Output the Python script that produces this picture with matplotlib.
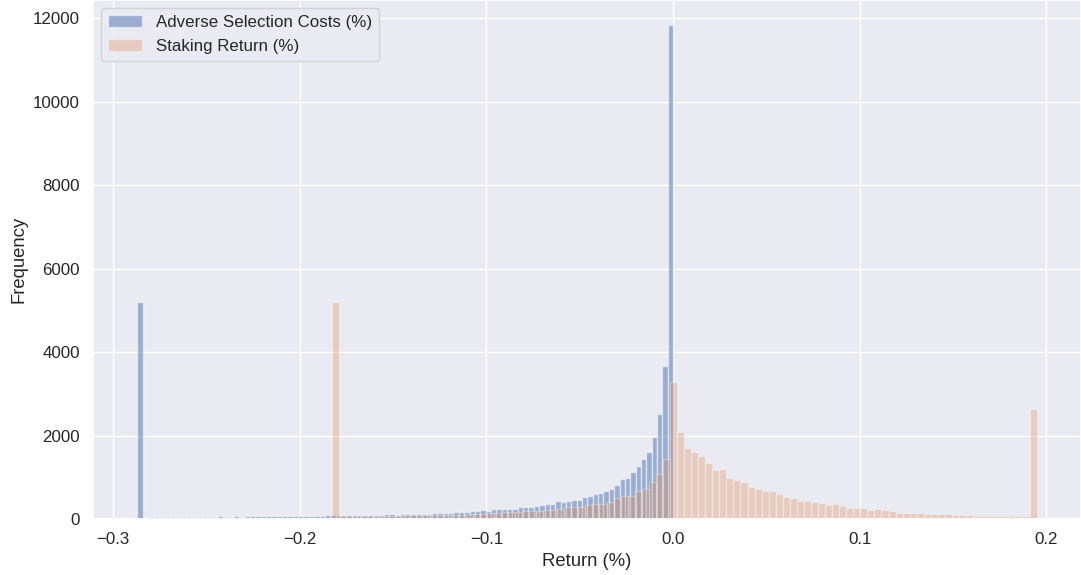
import numpy as np
import matplotlib
matplotlib.use("Agg")
import matplotlib.pyplot as plt
import seaborn as sns

# histogram counts (100 bins per series)
adverse_range = (-0.2869, 0.0)
adverse_counts = [5200,
    30, 46, 48, 50, 46, 52, 50, 54, 48, 56,
    54, 52, 58, 56, 60, 57, 55, 62, 59, 64,
    61, 66, 63, 68, 65, 70, 68, 72, 70, 74,
    76, 72, 80, 78, 84, 88, 86, 84, 90, 94,
    92, 98, 100, 102, 104, 108, 112, 106, 116, 120,
    118, 126, 130, 128, 136, 144, 140, 152, 156, 166,
    172, 182, 198,
    216, 200, 232, 236, 234, 236, 240, 280, 296, 284,
    304, 344, 360, 360, 424, 408, 432, 464, 464, 528,
    560, 608, 632, 672, 720, 824, 960, 984, 1120, 1264,
    1440, 1616, 1976, 2520, 3656, 11840]

staking_range = (-0.1829, 0.1947)
staking_counts = [5200,
    70, 72, 68, 74, 76, 72, 78, 80, 78, 84,
    88, 86, 92, 96, 94, 100, 106, 104, 110, 116,
    128, 144, 144, 160, 168, 168, 184, 192, 200, 216,
    224, 248, 280, 288, 296, 344, 352, 368, 408, 496,
    544, 560, 680, 728, 896, 1072, 1440,
    3272, 2080, 1696, 1616, 1512, 1336, 1176, 1192, 992, 936,
    880, 776, 728,
    676, 660, 592, 536, 504, 432, 424, 416, 384, 336,
    352, 312, 272, 272, 264, 224, 232, 216, 192, 152,
    144, 144, 144, 128, 120, 120, 112, 96, 96, 88,
    80, 80, 80, 70, 66, 66, 66, 66,
    2648]

labels = ["Adverse Selection Costs (%)", "Staking Return (%)"]

sns.set_theme()
plt.rcParams['font.family'] = ['Liberation Sans', 'DejaVu Sans']
plt.rcParams['xtick.labelsize'] = 12.2
plt.rcParams['ytick.labelsize'] = 12.2
plt.rcParams['axes.labelsize'] = 13.3
plt.rcParams['legend.fontsize'] = 12.2

fig = plt.figure(figsize=(10.81, 5.75), dpi=100)
ax = fig.add_axes([93 / 1081, 56 / 575, 1 - 93 / 1081, 1 - 56 / 575])

series = [(adverse_range, adverse_counts, labels[0], 0.5),
          (staking_range, staking_counts, labels[1], 0.3)]
for rng, counts, lab, a in series:
    edges = np.linspace(rng[0], rng[1], len(counts) + 1)
    centers = (edges[:-1] + edges[1:]) / 2
    ax.hist(centers, bins=edges, weights=counts, alpha=a, label=lab)

ax.set_xlim(-0.3107, 0.2185)
ax.set_ylim(0, 12440)
ax.set_xlabel('Return (%)')
ax.set_ylabel('Frequency')
ax.legend(loc='upper left')

fig.savefig("out.png", dpi=100)
